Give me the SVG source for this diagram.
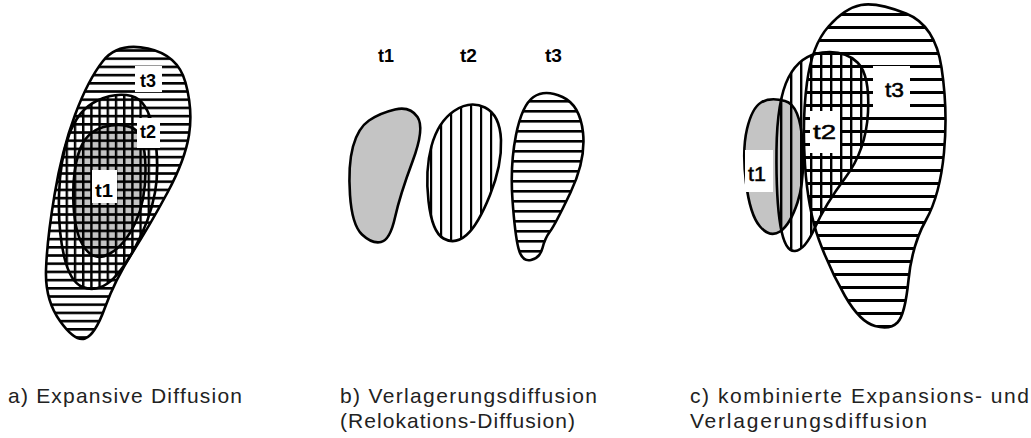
<svg xmlns="http://www.w3.org/2000/svg" width="1031" height="438" viewBox="0 0 1031 438">
<style>
.out{fill:none;stroke:#000;stroke-width:2.6;stroke-linejoin:round}
.bg{fill:#fff}
.gray{fill:#c4c4c4}
.lbl{font-family:"Liberation Sans",Arial,sans-serif;font-weight:bold;font-size:19px;fill:#000}
.lblc{font-family:"Liberation Sans",Arial,sans-serif;font-size:20px;fill:#000;stroke:#000;stroke-width:0.5}
.cap{font-family:"Liberation Sans",Arial,sans-serif;font-size:21px;fill:#222}
.box{fill:#fff}
</style>
<defs>
<pattern id="hA" patternUnits="userSpaceOnUse" width="20" height="8.2"><rect x="0" y="0" width="20" height="2.6" fill="#000"/></pattern>
<pattern id="vA" patternUnits="userSpaceOnUse" width="8.2" height="20"><rect x="0" y="0" width="2.4" height="20" fill="#000"/></pattern>
<pattern id="hB" patternUnits="userSpaceOnUse" width="20" height="10"><rect x="0" y="0" width="20" height="2.6" fill="#000"/></pattern>
<pattern id="vB" patternUnits="userSpaceOnUse" width="10" height="20"><rect x="0" y="0" width="2.2" height="20" fill="#000"/></pattern>
<pattern id="hC" patternUnits="userSpaceOnUse" width="20" height="13"><rect x="0" y="0" width="20" height="3" fill="#000"/></pattern>
<pattern id="vC" patternUnits="userSpaceOnUse" width="10" height="20"><rect x="0" y="0" width="2.4" height="20" fill="#000"/></pattern>
<path id="a3" d="M148,48.5 Q178,55 185.5,82.5 Q193,110 189,135 Q185,160 167.5,192.5 Q150,225 132.5,252.5 Q115,280 105,307.5 Q95,335 85,338.5 Q75,342 60,321 Q45,300 46,270 Q47,240 54.5,195 Q62,150 75,115 Q88,80 103,61 Q118,42 148,48.5 Z"/>
<path id="a2" d="M131.5,96 Q148,100 154,132.5 Q160,165 155,192.5 Q150,220 135,247.5 Q120,275 107.5,283.5 Q95,292 82.5,287 Q70,282 64,256 Q58,230 59,195 Q60,160 69,135 Q78,110 96.5,101 Q115,92 131.5,96 Z"/>
<path id="a1" d="M133.5,128.5 Q145,135 145.5,167.5 Q146,200 135.5,222.5 Q125,245 110,253.5 Q95,262 85,248.5 Q75,235 73.5,205 Q72,175 78.5,153.5 Q85,132 103.5,127 Q122,122 133.5,128.5 Z"/>
<path id="b1" d="M417.5,117 Q425,128 412.5,161.5 Q400,195 395,217.5 Q390,240 381,242 Q372,244 362,234.5 Q352,225 350,195 Q348,165 353,146.5 Q358,128 369,120.5 Q380,113 395,109.5 Q410,106 417.5,117 Z"/>
<path id="b2" d="M485,107.5 Q500,115 501,140 Q502,165 490,195 Q478,225 466.5,235 Q455,245 443.5,238.5 Q432,232 428.5,201 Q425,170 431.5,146 Q438,122 454,111 Q470,100 485,107.5 Z"/>
<path id="b3" d="M562.5,97 Q580,105 583,132.5 Q586,160 570.5,192.5 Q555,225 550,231.5 Q545,238 542.5,248 Q540,258 531,260 Q522,262 518.5,248.5 Q515,235 512.5,200 Q510,165 516,135 Q522,105 533.5,97 Q545,89 562.5,97 Z"/>
<path id="c3" d="M906,13.5 Q935,25 941.5,67.5 Q948,110 944,152.5 Q940,195 926,220 Q912,245 908.5,280 Q905,315 897.5,322.5 Q890,330 875,326 Q860,322 845,296 Q830,270 819,240 Q808,210 805,165 Q802,120 807,82.5 Q812,45 828.5,26.5 Q845,8 861,5 Q877,2 906,13.5 Z"/>
<path id="c2" d="M857.5,62.5 Q870,75 868,112.5 Q866,150 845.5,177.5 Q825,205 815,227.5 Q805,250 795,251 Q785,252 780.5,226 Q776,200 776.5,150 Q777,100 788.5,77.5 Q800,55 822.5,52.5 Q845,50 857.5,62.5 Z"/>
<path id="c1" d="M785,101 Q800,105 802.5,142.5 Q805,180 797.5,202.5 Q790,225 780,231.5 Q770,238 760,226.5 Q750,215 746,182.5 Q742,150 747,129 Q752,108 761,102.5 Q770,97 785,101 Z"/>
</defs>
<rect width="1031" height="438" fill="#fff"/>

<g id="panel-a">
<use href="#a3" class="bg"/>
<use href="#a1" class="gray"/>
<use href="#a3" fill="url(#hA)"/>
<use href="#a2" fill="url(#vA)"/>
<use href="#a3" class="out"/>
<use href="#a2" class="out"/>
<use href="#a1" class="out" stroke-width="1.8"/>
<rect class="box" x="135" y="66" width="27" height="26"/>
<rect class="box" x="137" y="118" width="23" height="30"/>
<rect class="box" x="92" y="170" width="25" height="33"/>
<text class="lbl" x="140" y="87" textLength="16" lengthAdjust="spacingAndGlyphs">t3</text>
<text class="lbl" x="140" y="138" textLength="16" lengthAdjust="spacingAndGlyphs">t2</text>
<text class="lbl" x="95" y="197" textLength="18" lengthAdjust="spacingAndGlyphs">t1</text>
</g>

<g id="panel-b">
<use href="#b1" class="gray"/>
<use href="#b2" class="bg"/>
<use href="#b2" fill="url(#vB)"/>
<use href="#b3" class="bg"/>
<use href="#b3" fill="url(#hB)"/>
<use href="#b1" class="out"/>
<use href="#b2" class="out"/>
<use href="#b3" class="out"/>
<text class="lbl" x="378" y="62" textLength="16" lengthAdjust="spacingAndGlyphs">t1</text>
<text class="lbl" x="460" y="62" textLength="17" lengthAdjust="spacingAndGlyphs">t2</text>
<text class="lbl" x="545" y="62" textLength="17" lengthAdjust="spacingAndGlyphs">t3</text>
</g>

<g id="panel-c">
<use href="#c3" class="bg"/>
<use href="#c2" class="bg"/>
<use href="#c1" class="gray"/>
<use href="#c3" fill="url(#hC)"/>
<use href="#c2" fill="url(#vC)"/>
<use href="#c3" class="out"/>
<use href="#c2" class="out"/>
<use href="#c1" class="out"/>
<rect class="box" x="873" y="66" width="37" height="42"/>
<rect class="box" x="810" y="111" width="30" height="42"/>
<rect class="box" x="745" y="150" width="28" height="42"/>
<text class="lblc" x="885" y="97" textLength="19" lengthAdjust="spacingAndGlyphs">t3</text>
<text class="lblc" x="813" y="139" textLength="23" lengthAdjust="spacingAndGlyphs">t2</text>
<text class="lblc" x="748" y="181" textLength="18" lengthAdjust="spacingAndGlyphs">t1</text>
</g>

<g id="captions">
<text class="cap" x="8" y="403" textLength="234" lengthAdjust="spacing">a) Expansive Diffusion</text>
<text class="cap" x="340" y="403" textLength="257" lengthAdjust="spacing">b) Verlagerungsdiffusion</text>
<text class="cap" x="340" y="428" textLength="235" lengthAdjust="spacing">(Relokations-Diffusion)</text>
<text class="cap" x="690" y="403" textLength="339" lengthAdjust="spacing">c) kombinierte Expansions- und</text>
<text class="cap" x="690" y="428" textLength="237" lengthAdjust="spacing">Verlagerungsdiffusion</text>
</g>
</svg>
